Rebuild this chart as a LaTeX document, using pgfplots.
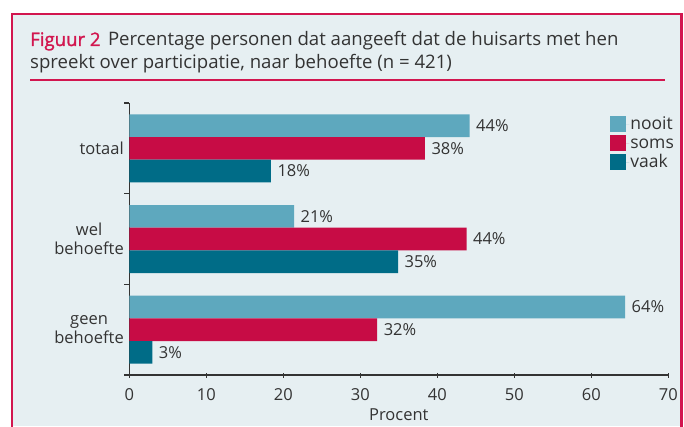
\documentclass[border=0pt]{standalone}
\usepackage{fontspec}
\setmainfont{Open Sans}
\newfontfamily\figfont[FakeBold=1.5]{Open Sans}
\usepackage{pgfplots}
\usepackage{pgfplotstable}
\pgfplotsset{compat=1.18}
\definecolor{bg}{HTML}{E6EFF2}
\definecolor{crim}{HTML}{D2164F}
\definecolor{nooit}{HTML}{5EA8BE}
\definecolor{soms}{HTML}{C70C45}
\definecolor{vaak}{HTML}{006C87}
\definecolor{txt}{HTML}{333333}

\pgfplotstableread{
y v l
2.25 44.2 44
1.25 21.4 21
0.25 64.4 64
}\nooitdata
\pgfplotstableread{
y v l
2.0 38.4 38
1.0 43.8 44
0.0 32.2 32
}\somsdata
\pgfplotstableread{
y v l
1.75 18.4 18
0.75 34.9 35
-0.25 3.0 3
}\vaakdata

\begin{document}
\begin{tikzpicture}[x=1pt,y=1pt]
\useasboundingbox (0,0) rectangle (684,426);
\fill[white] (0,0) rectangle (684,426);
\fill[bg] (12,0) rectangle (681,412);
\draw[crim, line width=2.6pt] (12,-2) -- (12,412) -- (681.5,412) -- (681.5,-2);
\node[anchor=base west, inner sep=0, font=\fontsize{18.6}{23}\selectfont, text=txt] at (30,380) {\textcolor{crim}{\figfont Figuur 2}\hspace{0.4em}Percentage personen dat aangeeft dat de huisarts met hen};
\node[anchor=base west, inner sep=0, font=\fontsize{18.6}{23}\selectfont, text=txt] at (30,357) {spreekt over participatie, naar behoefte (n = 421)};
\draw[crim, line width=1.2pt] (30,346) -- (665,346);

\begin{axis}[
  at={(129.3pt,51pt)}, anchor=south west,
  scale only axis, width=539pt, height=272pt,
  xmin=0, xmax=70, ymin=-0.5, ymax=2.5,
  axis lines*=left,
  axis line style={draw=txt, line width=1.1pt},
  tick style={draw=txt, line width=1.1pt},
  xtick align=center, ytick align=outside, major tick length=5pt,
  xtick={0,10,...,70},
  ytick={-0.5,0.5,1.5,2.5}, yticklabels={},
  extra y ticks={0,1,2},
  extra y tick labels={geen\\behoefte,wel\\behoefte,totaal},
  extra y tick style={major tick length=0pt, yticklabel style={align=center, xshift=-2pt}},
  ticklabel style={font=\fontsize{16.5}{19.5}\selectfont, text=txt},
  xticklabel style={yshift=-7pt},
  /pgf/number format/assume math mode=true,
  xlabel={Procent},
  xlabel style={font=\fontsize{16.5}{19}\selectfont, text=txt, yshift=-2pt},
  bar width=0.25, 
  point meta=explicit symbolic,
  nodes near coords={\pgfplotspointmeta\%},
  nodes near coords style={font=\fontsize{16.5}{18}\selectfont, text=txt, anchor=west, xshift=3pt},
  legend style={at={(0.8865,0.96)}, anchor=north west, draw=none, fill=none,
    font=\fontsize{17.5}{18}\selectfont, text=txt, row sep=3pt,
    nodes={inner sep=1pt, text height=12pt, text depth=2pt}},
  legend cell align=left,
  legend image code/.code={\fill[#1] (0pt,-8pt) rectangle (16pt,8pt); \path (0pt,0pt) -- (19pt,0pt);},
  clip=false,
]
\addplot[xbar, fill=nooit, draw=none, bar shift=0pt] table[x=v, y=y, meta=l] {\nooitdata};
\addplot[xbar, fill=soms, draw=none, bar shift=0pt] table[x=v, y=y, meta=l] {\somsdata};
\addplot[xbar, fill=vaak, draw=none, bar shift=0pt] table[x=v, y=y, meta=l] {\vaakdata};
\legend{nooit,soms,vaak}
\end{axis}
\end{tikzpicture}
\end{document}
